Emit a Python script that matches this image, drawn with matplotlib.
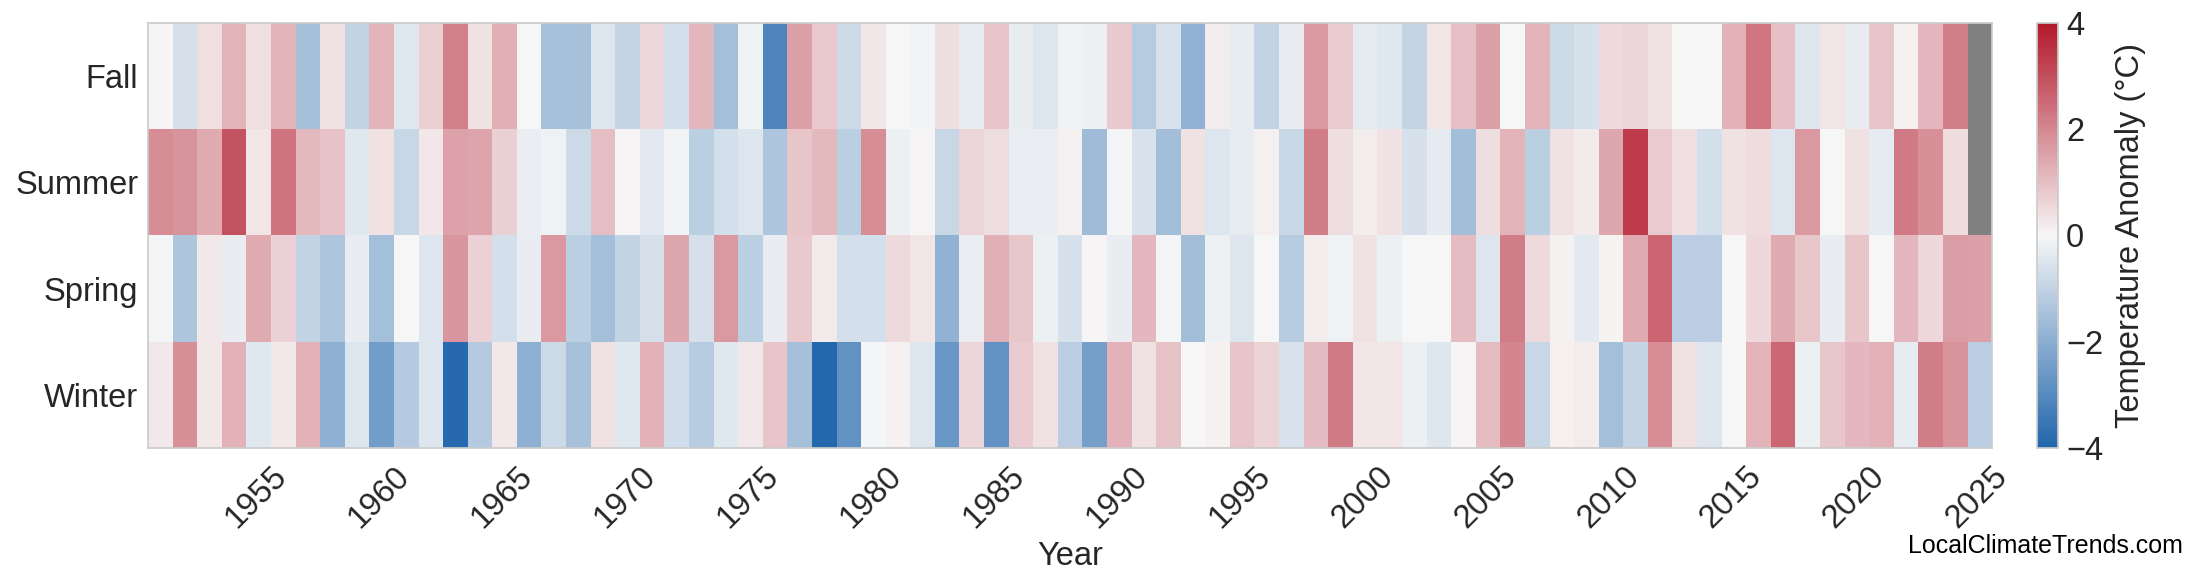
import numpy as np
import matplotlib.pyplot as plt
from matplotlib.colors import LinearSegmentedColormap

plt.rcParams['font.family'] = ['Liberation Sans', 'DejaVu Sans']

years = list(range(1950, 2025))
seasons = ['Fall', 'Summer', 'Spring', 'Winter']
tick_years = list(range(1955, 2030, 5))

# seasonal anomalies (deg C), one value per year
fall = [0.05, -0.63, 0.42, 1.19, 0.42, 1.19, -1.53, 0.4, -0.97, 1.2,
        -0.41, 0.7, 2.1, 0.38, 1.25, -0.02, -1.48, -1.48, -0.5, -0.95,
        0.54, -0.67, 1.15, -1.55, -0.13, -3.14, 1.55, 0.84, -0.8, 0.3,
        0.02, -0.1, 0.45, -0.3, 0.9, -0.28, -0.5, -0.15, -0.2, 0.82,
        -1.21, -0.57, -1.89, 0.2, -0.3, -1.0, -0.26, 1.68, 0.8, -0.36,
        -0.41, -0.95, 0.33, 0.98, 1.55, 0.0, 1.2, -0.8, -0.6, 0.52,
        0.61, 0.38, 0.03, 0.0, 1.22, 2.3, 0.97, -0.5, 0.32, -0.28,
        0.88, 0.12, 1.15, 2.15, np.nan]
summer = [1.89, 1.76, 1.36, 2.92, 0.33, 2.34, 1.1, 0.93, -0.41, 0.4,
          -0.88, 0.3, 1.5, 1.47, 0.7, -0.22, -0.15, -0.8, 1.03, 0.05,
          -0.38, -0.1, -1.1, -0.68, -0.5, -1.35, 0.9, 1.1, -1.1, 1.9,
          -0.2, 0.05, -0.9, 0.61, 0.45, -0.22, -0.22, 0.1, -1.64, -0.05,
          -0.57, -1.57, 0.4, -0.5, -0.3, 0.15, -0.9, 2.17, 0.45, 0.2,
          0.35, -0.6, -0.32, -1.57, 0.45, 1.2, -1.1, 0.4, 0.22, 1.41,
          3.35, 0.8, 0.43, -0.66, 0.4, 0.47, -0.5, 1.66, 0.0, 0.38,
          -0.32, 2.24, 1.85, 0.47, np.nan]
spring = [-0.05, -1.36, 0.25, -0.28, 1.36, 0.67, -0.97, -1.35, -0.28, -1.55,
          0.0, -0.5, 1.74, 0.67, -0.68, -0.27, 1.7, -1.1, -1.55, -0.97,
          -0.64, 1.45, -0.64, 1.68, -1.1, -0.28, 0.84, 0.22, -0.67, -0.67,
          0.5, 0.33, -1.89, -0.22, 1.27, 0.86, -0.2, -0.62, 0.05, -0.28,
          1.13, -0.05, -1.57, -0.18, -0.5, 0.0, -1.2, 0.2, -0.15, 0.4,
          -0.2, -0.02, 0.02, 1.05, -0.5, 2.18, 0.52, 0.1, -0.38, 0.07,
          1.37, 2.62, -1.14, -1.14, 0.0, 0.56, 1.37, 0.85, -0.28, 0.9,
          0.0, 1.13, 0.56, 1.62, 1.55]
winter = [0.25, 1.87, 0.27, 1.24, -0.41, 0.25, 1.24, -1.94, -0.5, -2.5,
          -1.22, -0.5, -3.9, -1.22, 0.25, -1.94, -0.8, -1.48, 0.38, -0.41,
          1.22, -0.7, -1.18, -0.43, 0.25, 0.9, -1.53, -3.95, -2.78, -0.05,
          0.1, -0.5, -2.64, 0.6, -2.76, 0.78, 0.38, -1.14, -2.41, 1.22,
          0.4, 0.93, 0.0, 0.12, 0.9, 0.63, -0.57, 1.07, 2.23, 0.33,
          0.33, -0.2, -0.45, 0.05, 1.05, 2.0, -0.9, 0.15, 0.2, -1.55,
          -0.95, 1.89, 0.4, -0.47, 0.0, 1.2, 2.57, -0.2, 0.87, 1.15,
          1.24, -0.3, 2.17, 1.77, -1.14]

data = np.ma.masked_invalid(np.array([fall, summer, spring, winter], dtype=float))

cmap = LinearSegmentedColormap.from_list('anom', ['#2166ac', '#f7f7f7', '#b2182b'])
cmap.set_bad('#808080')

fig = plt.figure(figsize=(22, 5.85), dpi=100)
ax = fig.add_axes([0.0673, 0.2342, 0.8382, 0.7265])
cax = fig.add_axes([0.9259, 0.2342, 0.0095, 0.7265])

x_edges = np.append(years, years[-1] + 1)
y_edges = np.arange(len(seasons) + 1)
mesh = ax.pcolormesh(x_edges, y_edges, data, cmap=cmap, vmin=-4, vmax=4)
ax.set_ylim(len(seasons), 0)
ax.set_xlim(x_edges[0], x_edges[-1])

text_col = '#262626'
ax.set_yticks(np.arange(len(seasons)) + 0.5)
ax.set_yticklabels(seasons, fontsize=23.5, color=text_col)
ax.set_xticks(tick_years)
ax.set_xticklabels(tick_years, rotation=45, ha='right', rotation_mode='anchor',
                   fontsize=23.5, color=text_col)
ax.tick_params(axis='y', length=0, pad=7)
ax.tick_params(axis='x', length=0, pad=9)
ax.set_xlabel('Year', fontsize=23.5, color=text_col, labelpad=5)
for s in ax.spines.values():
    s.set_color('#cccccc')
    s.set_linewidth(1.25)

cb = fig.colorbar(mesh, cax=cax, ticks=[-4, -2, 0, 2, 4])
cb.outline.set_edgecolor('#cccccc')
cb.outline.set_linewidth(1.25)
cb.ax.tick_params(length=0, pad=6, labelsize=23.5, labelcolor=text_col)
cb.set_label('Temperature Anomaly (°C)', fontsize=23.5, color=text_col, labelpad=8)

fig.text(0.9923, 0.0547, 'LocalClimateTrends.com', ha='right', va='baseline',
         fontsize=18, color='black')

fig.savefig('out.png', dpi=100)
